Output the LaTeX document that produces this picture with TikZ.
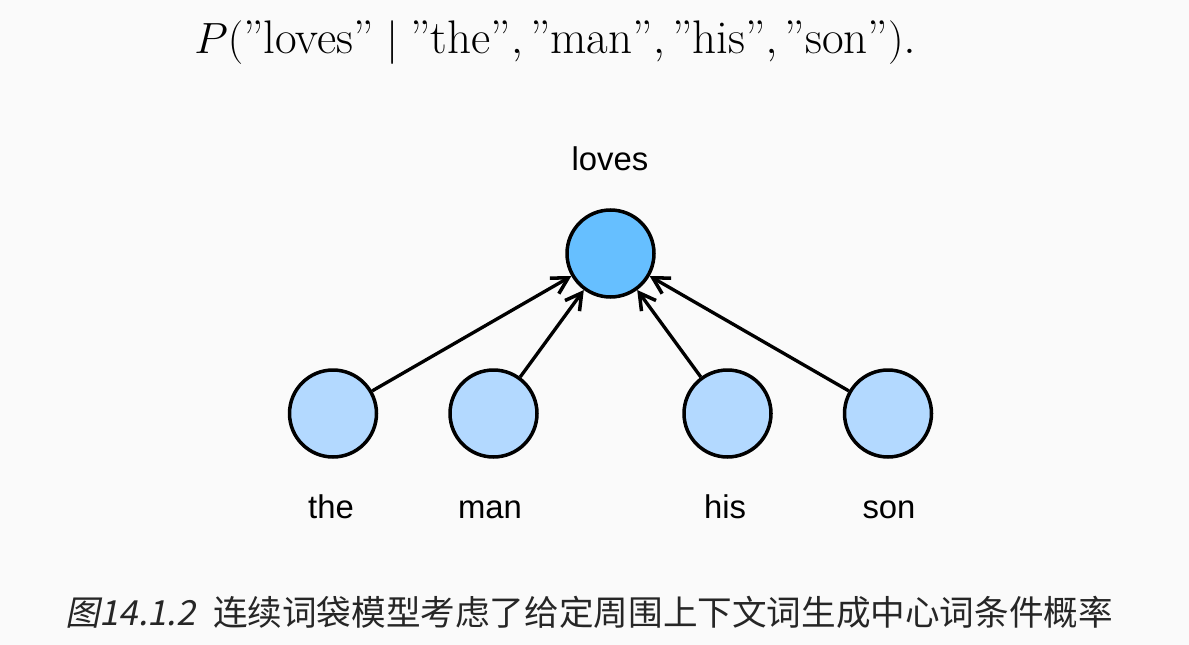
\documentclass[tikz,border=0pt]{standalone}
\usepackage{amsmath}
\usepackage{fontspec}
\setsansfont{Liberation Sans}
\newfontfamily\cjk{Noto Sans CJK SC}
\newfontfamily\cjkit[FakeSlant=0.2]{Noto Sans CJK SC}
\usetikzlibrary{arrows.meta, positioning}
\definecolor{cbBack}{HTML}{FAFAFA}
\definecolor{cbDark}{HTML}{66BFFF}
\definecolor{cbLight}{HTML}{B3D9FF}

\begin{document}
\begin{tikzpicture}[x=0.02cm, y=-0.02cm,
  ctx/.style={circle, draw=black, line width=2pt, fill=cbLight, minimum size=1.74cm, inner sep=0pt},
  tgt/.style={circle, draw=black, line width=2pt, fill=cbDark, minimum size=1.74cm, inner sep=0pt},
  lbl/.style={font=\fontsize{18.7}{22}\sffamily, inner sep=0pt, anchor=base},
  e/.style={-{Straight Barb[length=3.2mm, width=3.6mm, line width=2pt]}, line width=1.9pt}]
  \fill[cbBack] (0,0) rectangle (1189,645);
  \useasboundingbox (0,0) rectangle (1189,645);
  % formula
  \node[font=\fontsize{26.8}{30}\selectfont] (eq) at (555,43)
    {$P(\text{''loves''} \mid \text{''the''}, \text{''man''}, \text{''his''}, \text{''son''}).$};
  % words
  \node[tgt] (loves) at (610.5,253.5) {};
  \node[ctx] (the) at (333,413.5) {};
  \node[ctx] (man) at (493.5,413.5) {};
  \node[ctx] (his) at (727.5,413.5) {};
  \node[ctx] (son) at (888,413.5) {};
  \node[lbl] (tloves) at (610,171) {loves};
  \node[lbl] (tthe) at (331,518) {the};
  \node[lbl] (tman) at (490,518) {man};
  \node[lbl] (this) at (725,518) {his};
  \node[lbl] (tson) at (889,518) {son};
  \draw[e] (the) -- (loves); \draw[e] (man) -- (loves);
  \draw[e] (his) -- (loves); \draw[e] (son) -- (loves);
  % caption
  \node[font=\fontsize{19.7}{24}\selectfont, text=black!85] (cap) at (589,612)
    {\cjkit 图14.1.2\hspace{0.5em}\cjk 连续词袋模型考虑了给定周围上下文词生成中心词条件概率};
\end{tikzpicture}
\end{document}
